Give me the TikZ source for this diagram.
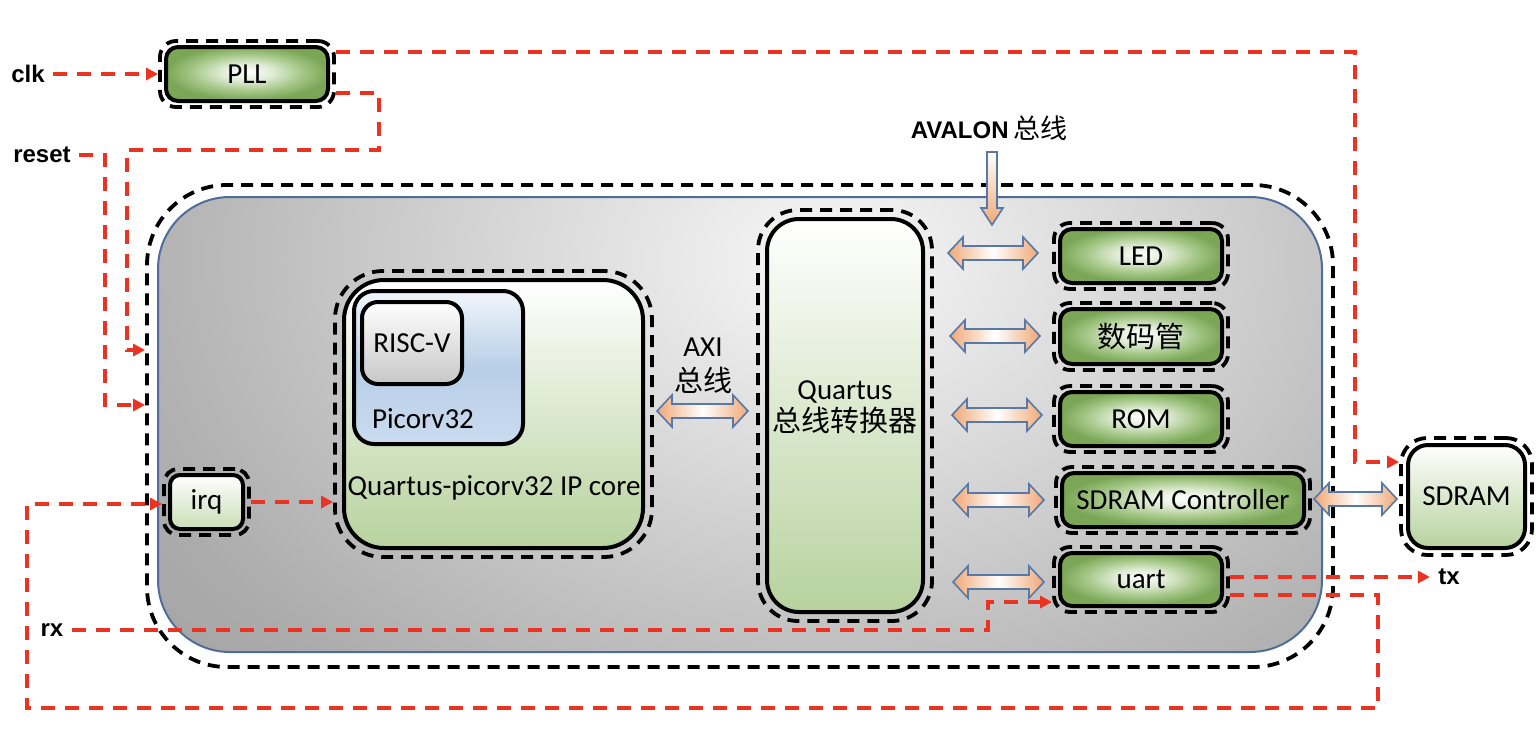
\documentclass[tikz,border=0pt]{standalone}
\usepackage{fontspec}
\setmainfont{Carlito}
\newfontfamily\cjk{Noto Sans CJK SC}
\newfontfamily\arialf{Liberation Sans}
\usetikzlibrary{arrows.meta,fit,calc}

\definecolor{sigred}{RGB}{234,51,35}
\definecolor{frameblue}{RGB}{79,109,154}
\definecolor{arrblue}{RGB}{86,121,168}
\definecolor{peach}{RGB}{240,168,118}
\definecolor{gmid}{RGB}{165,199,135}
\definecolor{gdark}{RGB}{122,166,86}
\definecolor{glight}{RGB}{183,210,158}
\definecolor{bluebox}{RGB}{184,207,232}

\pgfdeclareradialshading{greenball}{\pgfpoint{0bp}{2bp}}{color(0bp)=(white); color(8bp)=(gmid!35!white); color(17bp)=(gmid); color(25bp)=(gdark); color(50bp)=(gdark)}
\pgfdeclareradialshading{bgradial}{\pgfpoint{0bp}{0bp}}{color(0bp)=(black!3); color(8.5bp)=(black!15); color(16bp)=(black!26); color(21bp)=(black!33); color(25bp)=(black!36); color(50bp)=(black!36)}

\newcommand\lblfont{\fontsize{14.5}{17}\selectfont}
\newcommand\hblock[3]{\path[blockarr] (#1,#3) -- ({#1+15},{#3-16}) -- ({#1+15},{#3-7}) -- ({#2-15},{#3-7}) -- ({#2-15},{#3-16}) -- (#2,#3) -- ({#2-15},{#3+16}) -- ({#2-15},{#3+7}) -- ({#1+15},{#3+7}) -- ({#1+15},{#3+16}) -- cycle;}

\tikzset{
  solidbox/.style={draw=black, line width=2pt, rounded corners=6pt, inner sep=0pt, font=\lblfont},
  greenbox/.style={solidbox, shade, shading=greenball},
  wrap/.style={draw=black, line width=1.9pt, dash pattern=on 6pt off 4pt, rounded corners=8pt, inner sep=2pt},
  sig/.style={draw=sigred, line width=2pt, dash pattern=on 7pt off 5pt},
  sigarr/.style={sig, -{Triangle[length=6pt,width=6pt]}},
  blockarr/.style={draw=arrblue, line width=0.8pt, left color=peach, right color=peach, middle color=white},
  pinlabel/.style={font=\arialf\bfseries\fontsize{12}{14}\selectfont, inner sep=4pt},
  plain/.style={font=\lblfont, inner sep=0pt},
}

\begin{document}
\begin{tikzpicture}[x=0.5pt, y=-0.5pt]
\useasboundingbox (0,0) rectangle (1536,750);

% outer frame and grey panel
\node[draw=black, line width=1.9pt, dash pattern=on 6pt off 4pt, rounded corners=40pt,
      minimum width=593pt, minimum height=241pt] (frame) at (740,426) {};
\begin{scope}
  \clip[rounded corners=36pt] (158,197) rectangle (1322,652);
  \shade[shading=bgradial] (-70,-380) rectangle (1730,900);
\end{scope}
\node[draw=frameblue, line width=1pt, rounded corners=36pt,
      minimum width=582pt, minimum height=227.5pt] (panel) at (740,424.5) {};

% PLL
\node[greenbox, minimum width=81pt, minimum height=27pt] (pll) at (247,74) {PLL};
\node[wrap, fit=(pll)] (pllw) {};

% peripherals
\node[greenbox, minimum width=81pt, minimum height=27pt] (led) at (1141,256) {LED};
\node[wrap, fit=(led)] (ledw) {};
\node[greenbox, minimum width=81pt, minimum height=27.5pt] (seg) at (1141,336.5) {\cjk 数码管};
\node[wrap, fit=(seg)] (segw) {};
\node[greenbox, minimum width=81pt, minimum height=27pt] (rom) at (1141,419) {ROM};
\node[wrap, fit=(rom)] (romw) {};
\node[greenbox, minimum width=121pt, minimum height=27pt] (sdc) at (1183,500) {SDRAM Controller};
\node[wrap, fit=(sdc)] (sdcw) {};
\node[greenbox, minimum width=81pt, minimum height=26.5pt] (uart) at (1141,579.5) {uart};
\node[wrap, fit=(uart)] (uartw) {};

% SDRAM
\node[solidbox, rounded corners=10pt, top color=white, bottom color=glight,
      minimum width=58.5pt, minimum height=51.5pt] (sdram) at (1466.5,496.5) {SDRAM};
\node[wrap, fit=(sdram), inner sep=2.5pt, rounded corners=13pt] (sdramw) {};

% bus converter
\node[solidbox, rounded corners=16pt, top color=white, bottom color=glight,
      minimum width=78pt, minimum height=196.5pt] (conv) at (845,415.5) {};
\node[wrap, fit=(conv), inner sep=3.5pt, rounded corners=20pt] (convw) {};
\node[plain, align=center, font=\lblfont, text depth=0pt] (convtxt) at (845,406) {Quartus\\[-1pt]{\cjk 总线转换器}};

% IP core
\node[solidbox, rounded corners=20pt, top color=white, bottom color=glight,
      minimum width=149.5pt, minimum height=134pt] (core) at (493.5,414) {};
\node[wrap, fit=(core), inner sep=3.5pt, rounded corners=24pt] (corew) {};
\node[solidbox, rounded corners=10pt, top color=bluebox!20!white, bottom color=bluebox!75!white, middle color=bluebox,
      minimum width=84.5pt, minimum height=76.5pt] (pico) at (438.5,367.5) {};
\node[solidbox, rounded corners=8pt, top color=white, bottom color=black!22,
      minimum width=50pt, minimum height=41pt] (riscv) at (412,343) {RISC-V};
\node[plain] (picotxt) at (423,419) {Picorv32};
\node[plain] (coretxt) at (494,488) {Quartus-picorv32 IP core};

% irq
\node[solidbox, rounded corners=5pt, top color=white, bottom color=glight!75!white,
      minimum width=36.5pt, minimum height=27pt] (irq) at (206.5,502) {irq};
\node[wrap, fit=(irq), rounded corners=7pt] (irqw) {};

% AXI label
\node[plain] (axi) at (703,347) {AXI};
\node[plain] (axizx) at (703,380) {\cjk 总线};

% AVALON label and arrow
\node[inner sep=0pt] (avalon) at (989,128) {{\arialf\bfseries\fontsize{12}{14}\selectfont AVALON} {\cjk\fontsize{13.5}{15}\selectfont 总线}};
\path[draw=arrblue, line width=0.8pt, top color=white, bottom color=peach]
  (987,152) -- (997,152) -- (997,208) -- (1003,208) -- (992,225) -- (981,208) -- (987,208) -- cycle;

% block double arrows
\hblock{657}{748}{411}
\hblock{948}{1038}{253}
\hblock{950}{1040}{336}
\hblock{952}{1042}{415}
\hblock{953}{1044}{500}
\hblock{953}{1044}{582}
\hblock{1314}{1397}{499}

% pin labels
\node[pinlabel] (clk) at (28,74) {clk};
\node[pinlabel] (reset) at (42,155) {reset};
\node[pinlabel] (rx) at (52,630) {rx};
\node[pinlabel] (tx) at (1449,577) {tx};

% signal connectors
\draw[sigarr] (clk.east) -- (clk.east -| pllw.west);
\draw[sigarr] (pllw.east |- 0,52) -| (1355,462) -- (sdramw.west |- 0,462);
\draw[sigarr] (pllw.east |- 0,93) -| (379,150) -| (127,350) -- (frame.west |- 0,350);
\draw[sigarr] (reset.east) -| (105,405) -- (frame.west |- 0,405);
\draw[sigarr] (uartw.east |- 0,595) -| (1378,708) -| (27,504) -- (irqw.west |- 0,504);
\draw[sigarr] (irqw.east) -- (irqw.east -| corew.west);
\draw[sigarr] (rx.east) -| (988,602) -- (uartw.west |- 0,602);
\draw[sigarr] (uartw.east |- 0,577) -- (tx.west);
\end{tikzpicture}
\end{document}
